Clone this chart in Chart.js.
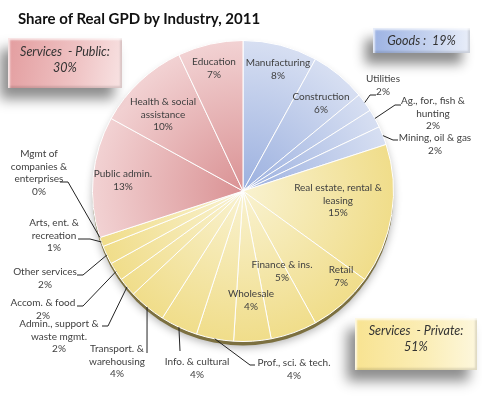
<!DOCTYPE html>
<html>
<head>
<meta charset="utf-8">
<script src="https://cdn.jsdelivr.net/npm/chart.js@4.4.1/dist/chart.umd.min.js"></script>
<style>
  body { margin: 0; background: #fff; }
  #wrap { position: relative; width: 482px; height: 397px; overflow: hidden; font-family: Lato, "Open Sans", sans-serif; }
  #pie { position: absolute; left: 0; top: 0; }
  #title { position: absolute; left: 18px; top: 9px; font-weight: bold; font-size: 15px; color: #111; white-space: nowrap; }
  .box { position: absolute; text-align: center; font-style: italic; font-size: 12.5px; color: #333; line-height: 16px; box-sizing: border-box; white-space: pre;
         box-shadow: -8px 11px 12px rgba(0,0,0,0.45), inset 2px 2px 2px rgba(255,255,255,0.75), inset -2px -2px 2px rgba(0,0,0,0.12); }
  #bPublic { left: 8px; top: 38px; width: 114px; height: 50px; padding-top: 6px; background: linear-gradient(100deg, #e39d9f 0%, #efc3c4 60%, #f8e3e3 100%); }
  #bGoods { left: 373px; top: 28px; width: 97px; height: 25px; line-height: 25px; background: linear-gradient(90deg, #9db3e3 0%, #c6d3ef 60%, #e9eef9 100%); }
  #bPrivate { left: 355px; top: 318px; width: 122px; height: 52px; padding-top: 5px; background: linear-gradient(90deg, #f8e391 0%, #fbeeb8 60%, #fdf7dd 100%); }
</style>
</head>
<body>
<div id="wrap">
  <canvas id="pie" width="482" height="397"></canvas>
  <div id="title">Share of Real GPD by Industry, 2011</div>
  <div class="box" id="bPublic"></div>
  <div class="box" id="bGoods"></div>
  <div class="box" id="bPrivate"></div>
</div>
<script>
// slices, clockwise from 12 o'clock
const categories = [
  'Manufacturing', 'Construction', 'Utilities', 'Ag., for., fish &\nhunting', 'Mining, oil & gas',
  'Real estate, rental &\nleasing', 'Retail', 'Finance & ins.', 'Wholesale', 'Prof., sci. & tech.',
  'Info. & cultural', 'Transport. &\nwarehousing', 'Admin., support &\nwaste mgmt.', 'Accom. & food',
  'Other services', 'Arts, ent. &\nrecreation', 'Mgmt of\ncompanies &\nenterprises',
  'Public admin.', 'Health & social\nassistance', 'Education'
];
const shares = [8, 6, 2, 2, 2, 15, 7, 5, 4, 4, 4, 4, 2, 2, 2, 1, 0, 13, 10, 7];
const sectorOf = [0, 0, 0, 0, 0, 1, 1, 1, 1, 1, 1, 1, 1, 1, 1, 1, 1, 2, 2, 2];

const sectorNames = ['Goods', 'Services  - Private', 'Services  - Public'];
const sectorShares = [19, 51, 30];

document.getElementById('bGoods').textContent = sectorNames[0] + ' :  ' + sectorShares[0] + '%';
document.getElementById('bPrivate').textContent = sectorNames[1] + ':\n' + sectorShares[1] + '%';
document.getElementById('bPublic').textContent = sectorNames[2] + ':\n' + sectorShares[2] + '%';

// [center colour, edge colour] per sector
const palette = [
  ['#9bb0df', '#d7dff2'],
  ['#f9f2d0', '#f0dd8a'],
  ['#da9294', '#f2d2d3']
];

// label placement relative to pie centre: text pos, optional leader elbow + tail
const labelAt = [
  { at: [35, -128] }, { at: [78, -94] },
  { at: [140, -112], elbow: [127, -96], tail: [133, -96] },
  { at: [190, -90], elbow: [152, -86], tail: [158, -86] },
  { at: [192, -53], elbow: [150, -51], tail: [155, -51] },
  { at: [95, -3] }, { at: [98, 79] }, { at: [39, 74] }, { at: [8, 103] },
  { at: [51, 172], elbow: [7, 174], tail: [12, 174] },
  { at: [-46, 171], elbow: [-63, 160], tail: [-63, 160] },
  { at: [-126, 158], elbow: [-96, 162], tail: [-96, 162] },
  { at: [-184, 133], elbow: [-135, 135], tail: [-141, 135] },
  { at: [-200, 112], elbow: [-160, 115], tail: [-166, 115] },
  { at: [-198, 81], elbow: [-160, 84], tail: [-166, 84] },
  { at: [-189, 32], elbow: [-153, 48], tail: [-165, 48] },
  { at: [-204, -37], elbow: [-175, -9], tail: [-183, -9] },
  { at: [-120, -17] }, { at: [-80, -89] }, { at: [-29, -129] }
];

function sliceFill(context) {
  const chart = context.chart;
  const pal = palette[sectorOf[context.dataIndex]];
  const a = chart.chartArea;
  if (!a) return pal[1];
  const cx = (a.left + a.right) / 2, cy = (a.top + a.bottom) / 2;
  const r = Math.min(a.right - a.left, a.bottom - a.top) / 2;
  const g = chart.ctx.createRadialGradient(cx, cy, 0, cx, cy, r);
  g.addColorStop(0, pal[0]);
  g.addColorStop(1, pal[1]);
  return g;
}

const rimPlugin = {
  id: 'rim',
  beforeDatasetsDraw(chart) {
    const arc = chart.getDatasetMeta(0).data[0];
    const ctx = chart.ctx;
    ctx.save();
    ctx.shadowColor = 'rgba(0,0,0,0.3)';
    ctx.shadowBlur = 8;
    ctx.shadowOffsetY = 2;
    ctx.fillStyle = '#7c7040';
    ctx.beginPath();
    ctx.arc(arc.x, arc.y + 4, arc.outerRadius, 0, Math.PI * 2);
    ctx.fill();
    ctx.restore();
  }
};

const labelPlugin = {
  id: 'sliceLabels',
  afterDatasetsDraw(chart) {
    const ctx = chart.ctx;
    const arcs = chart.getDatasetMeta(0).data;
    ctx.save();
    ctx.font = '10px Lato, "Open Sans", sans-serif';
    ctx.fillStyle = '#404040';
    ctx.strokeStyle = '#222';
    ctx.lineWidth = 1;
    ctx.textAlign = 'center';
    ctx.textBaseline = 'middle';
    arcs.forEach((arc, i) => {
      const lay = labelAt[i];
      const cx = arc.x, cy = arc.y;
      const lines = categories[i].split('\n').concat(Math.round(shares[i]) + '%');
      lines.forEach((t, k) => ctx.fillText(t, cx + lay.at[0], cy + lay.at[1] + k * 12.6));
      if (lay.elbow) {
        const mid = (arc.startAngle + arc.endAngle) / 2;
        ctx.beginPath();
        ctx.moveTo(cx + Math.cos(mid) * arc.outerRadius, cy + Math.sin(mid) * arc.outerRadius);
        ctx.lineTo(cx + lay.elbow[0], cy + lay.elbow[1]);
        ctx.lineTo(cx + lay.tail[0], cy + lay.tail[1]);
        ctx.stroke();
      }
    });
    ctx.restore();
  }
};

const ctx = document.getElementById('pie').getContext('2d');
new Chart(ctx, {
  type: 'pie',
  data: {
    labels: categories,
    datasets: [{
      data: shares,
      backgroundColor: sliceFill,
      borderColor: '#ffffff',
      borderWidth: 1,
      hoverOffset: 0
    }]
  },
  options: {
    responsive: false,
    animation: false,
    layout: { padding: { left: 92, right: 88, top: 40, bottom: 55 } },
    plugins: {
      legend: { display: false },
      tooltip: { enabled: false }
    }
  },
  plugins: [rimPlugin, labelPlugin]
});
</script>
</body>
</html>
